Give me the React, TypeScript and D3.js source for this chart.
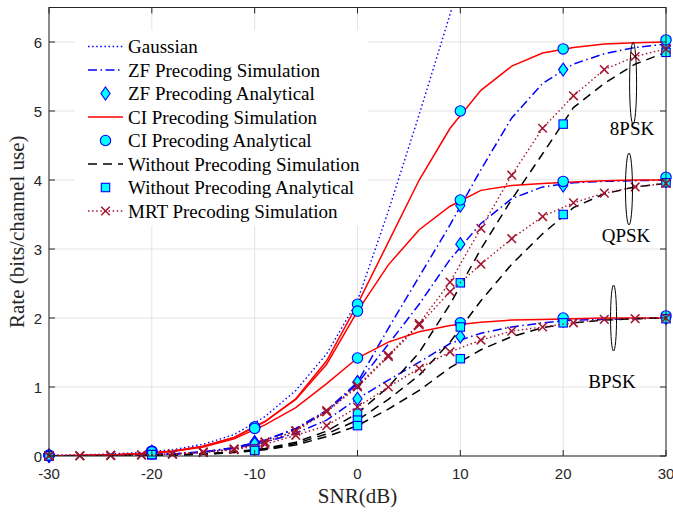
import React from 'react';
import * as d3 from 'd3';

// ---------- data ----------
const snrSim = [-30, -27, -24, -21, -18, -15, -12, -9, -6, -3, 0, 3, 6, 9, 12, 15, 18, 21, 24, 27, 30];
const snrGauss = [-30, -27, -24, -21, -18, -15, -12, -9, -6, -3, 0, 3, 6, 9, 12];
const snrAna = [-30, -20, -10, 0, 10, 20, 30];

const gaussian = [0.01, 0.015, 0.03, 0.05, 0.09, 0.17, 0.31, 0.57, 0.95, 1.48, 2.25, 3.55, 4.95, 6.4, 7.9];

// ZF precoding simulation
const zfSim8 = [0.002, 0.004, 0.008, 0.015, 0.03, 0.06, 0.12, 0.23, 0.4, 0.66, 1.07, 1.85, 2.6, 3.35, 4.15, 4.9, 5.4, 5.68, 5.83, 5.92, 5.97];
const zfSim4 = [0.002, 0.004, 0.008, 0.015, 0.03, 0.06, 0.12, 0.23, 0.39, 0.64, 1.05, 1.62, 2.2, 2.85, 3.37, 3.73, 3.9, 3.96, 3.98, 3.99, 4.0];
const zfSim2 = [0.002, 0.004, 0.008, 0.014, 0.028, 0.055, 0.11, 0.2, 0.33, 0.52, 0.83, 1.1, 1.36, 1.63, 1.78, 1.87, 1.93, 1.97, 1.98, 1.99, 2.0];
// ZF analytical
const zfAna8 = [0.003, 0.06, 0.2, 1.07, 3.63, 5.6, 5.95];
const zfAna4 = [0.003, 0.06, 0.2, 1.07, 3.07, 3.92, 3.99];
const zfAna2 = [0.003, 0.05, 0.18, 0.83, 1.73, 1.96, 2.0];

// CI precoding simulation
const ciSim8 = [0.004, 0.008, 0.016, 0.035, 0.07, 0.14, 0.27, 0.5, 0.83, 1.38, 2.2, 3.1, 4.0, 4.75, 5.3, 5.65, 5.84, 5.92, 5.97, 5.99, 6.0];
const ciSim4 = [0.004, 0.008, 0.016, 0.035, 0.07, 0.14, 0.27, 0.5, 0.82, 1.33, 2.1, 2.77, 3.28, 3.62, 3.85, 3.92, 3.95, 3.97, 3.99, 4.0, 4.0];
const ciSim2 = [0.004, 0.008, 0.016, 0.033, 0.065, 0.13, 0.25, 0.45, 0.7, 1.05, 1.42, 1.65, 1.8, 1.89, 1.94, 1.97, 1.98, 1.99, 2.0, 2.0, 2.0];
// CI analytical
const ciAna8 = [0.01, 0.07, 0.42, 2.2, 5.0, 5.9, 6.03];
const ciAna4 = [0.01, 0.07, 0.42, 2.1, 3.71, 3.98, 4.04];
const ciAna2 = [0.01, 0.06, 0.4, 1.42, 1.93, 2.0, 2.03];

// Without precoding simulation
const woSim8 = [0.001, 0.002, 0.004, 0.008, 0.015, 0.03, 0.06, 0.11, 0.2, 0.36, 0.62, 1.0, 1.5, 2.2, 3.0, 3.72, 4.38, 5.05, 5.4, 5.68, 5.85];
const woSim4 = [0.001, 0.002, 0.004, 0.008, 0.014, 0.028, 0.055, 0.1, 0.18, 0.32, 0.52, 0.82, 1.17, 1.65, 2.25, 2.78, 3.22, 3.6, 3.8, 3.9, 3.95];
const woSim2 = [0.001, 0.002, 0.004, 0.007, 0.013, 0.026, 0.05, 0.09, 0.16, 0.28, 0.44, 0.68, 0.95, 1.28, 1.54, 1.73, 1.86, 1.93, 1.97, 1.99, 2.0];
// Without precoding analytical
const woAna8 = [0.002, 0.02, 0.1, 0.62, 2.51, 4.81, 5.85];
const woAna4 = [0.002, 0.02, 0.1, 0.52, 1.87, 3.5, 3.96];
const woAna2 = [0.002, 0.02, 0.08, 0.44, 1.41, 1.93, 1.99];

// MRT precoding simulation
const mrtSim8 = [0.002, 0.004, 0.008, 0.015, 0.03, 0.055, 0.1, 0.2, 0.37, 0.66, 1.02, 1.46, 1.92, 2.52, 3.3, 4.07, 4.75, 5.22, 5.6, 5.79, 5.9];
const mrtSim4 = [0.002, 0.004, 0.008, 0.015, 0.03, 0.055, 0.1, 0.2, 0.36, 0.64, 1.0, 1.44, 1.9, 2.38, 2.78, 3.15, 3.47, 3.67, 3.81, 3.9, 3.95];
const mrtSim2 = [0.002, 0.004, 0.008, 0.014, 0.027, 0.05, 0.09, 0.17, 0.3, 0.44, 0.71, 1.0, 1.27, 1.51, 1.68, 1.81, 1.87, 1.93, 1.98, 1.99, 2.0];

const xTicks = [-30, -20, -10, 0, 10, 20, 30];
const yTicks = [0, 1, 2, 3, 4, 5, 6];

const legendLabels = [
  'Gaussian',
  'ZF Precoding Simulation',
  'ZF Precoding Analytical',
  'CI Precoding Simulation',
  'CI Precoding Analytical',
  'Without Precoding Simulation',
  'Without Precoding Analytical',
  'MRT Precoding Simulation',
];

const modLabels = ['8PSK', 'QPSK', 'BPSK'];
const modEllipseSnr = [26.8, 26.4, 24.9];
const modEllipseRate = [5.4, 3.87, 2.0];

// ---------- styles ----------
const BLUE = '#0000FF';
const RED = '#FF0000';
const BLACK = '#000000';
const MRT = '#A2142F';
const CYAN = '#00FFFF';
const SERIF = '"Liberation Serif", "Times New Roman", serif';
const SANS = '"Liberation Sans", Arial, Helvetica, sans-serif';

type Style = { stroke: string; dash?: string; width: number };
const sGauss: Style = { stroke: BLUE, dash: '1.5,2.6', width: 1.4 };
const sZF: Style = { stroke: BLUE, dash: '9,3.5,1.5,3.5', width: 1.5 };
const sCI: Style = { stroke: RED, width: 1.5 };
const sWO: Style = { stroke: BLACK, dash: '9,6', width: 1.5 };
const sMRT: Style = { stroke: MRT, dash: '1.5,2.6', width: 1.4 };

function Marker({ kind, cx, cy }: { kind: string; cx: number; cy: number }) {
  if (kind === 'circle') return <circle cx={cx} cy={cy} r={5.2} fill={CYAN} stroke={BLUE} strokeWidth={1.1} />;
  if (kind === 'diamond')
    return (
      <path
        d={`M${cx},${cy - 6.5}L${cx + 4.6},${cy}L${cx},${cy + 6.5}L${cx - 4.6},${cy}Z`}
        fill={CYAN}
        stroke={BLUE}
        strokeWidth={1.1}
      />
    );
  if (kind === 'square')
    return <rect x={cx - 4.2} y={cy - 4.2} width={8.4} height={8.4} fill={CYAN} stroke={BLUE} strokeWidth={1.1} />;
  // x
  return (
    <path d={`M${cx - 4.3},${cy - 4.3}L${cx + 4.3},${cy + 4.3}M${cx - 4.3},${cy + 4.3}L${cx + 4.3},${cy - 4.3}`} stroke={MRT} strokeWidth={1.5} fill="none" />
  );
}

export default function App() {
  const W = 673;
  const H = 513;
  const L = 49, R = 666, T = 7.5, B = 456;
  const x = d3.scaleLinear().domain([-30, 30]).range([L, R]);
  const y = d3.scaleLinear().domain([0, 6.5]).range([B, T]);
  const line = d3.line<number>();

  const path = (xs: number[], ys: number[]) =>
    d3.line<[number, number]>().x((d) => x(d[0])).y((d) => y(d[1]))(xs.map((v, i) => [v, ys[i]] as [number, number])) || '';

  const simLine = (xs: number[], ys: number[], s: Style, key: string) => (
    <path key={key} d={path(xs, ys)} fill="none" stroke={s.stroke} strokeWidth={s.width} strokeDasharray={s.dash} clipPath="url(#plotclip)" />
  );
  const markers = (xs: number[], ys: number[], kind: string, key: string) =>
    xs.map((v, i) => <Marker key={key + i} kind={kind} cx={x(v)} cy={y(ys[i])} />);

  const gridColor = '#e3e3e3';
  const axisColor = '#262626';
  const tickLen = 6;

  // legend layout
  const legX = 75, legY = 30, legW = 293, legH = 196;
  const rowY = (i: number) => 46.5 + i * 23.5;
  const legItems: { style?: Style; marker?: string }[] = [
    { style: sGauss },
    { style: sZF },
    { marker: 'diamond' },
    { style: sCI },
    { marker: 'circle' },
    { style: sWO },
    { marker: 'square' },
    { style: sMRT, marker: 'x' },
  ];

  return (
    <svg width={W} height={H} style={{ position: 'absolute', left: 0, top: 0, background: '#fff' }}>
      <defs>
        <clipPath id="plotclip">
          <rect x={L} y={T} width={R - L} height={B - T} />
        </clipPath>
      </defs>
      <rect x={0} y={0} width={W} height={H} fill="#fff" />
      {/* grid */}
      {xTicks.map((t) => (
        <line key={'gx' + t} x1={x(t)} x2={x(t)} y1={T} y2={B} stroke={gridColor} strokeWidth={1} />
      ))}
      {yTicks.map((t) => (
        <line key={'gy' + t} x1={L} x2={R} y1={y(t)} y2={y(t)} stroke={gridColor} strokeWidth={1} />
      ))}

      {/* legend background (covers grid) */}
      <rect x={legX} y={legY} width={legW} height={legH} fill="#fff" />

      {/* series */}
      {simLine(snrGauss, gaussian, sGauss, 'g')}
      {simLine(snrSim, zfSim8, sZF, 'zf8')}
      {simLine(snrSim, zfSim4, sZF, 'zf4')}
      {simLine(snrSim, zfSim2, sZF, 'zf2')}
      {markers(snrAna, zfAna8, 'diamond', 'zfa8')}
      {markers(snrAna, zfAna4, 'diamond', 'zfa4')}
      {markers(snrAna, zfAna2, 'diamond', 'zfa2')}
      {simLine(snrSim, ciSim8, sCI, 'ci8')}
      {simLine(snrSim, ciSim4, sCI, 'ci4')}
      {simLine(snrSim, ciSim2, sCI, 'ci2')}
      {markers(snrAna, ciAna8, 'circle', 'cia8')}
      {markers(snrAna, ciAna4, 'circle', 'cia4')}
      {markers(snrAna, ciAna2, 'circle', 'cia2')}
      {simLine(snrSim, woSim8, sWO, 'wo8')}
      {simLine(snrSim, woSim4, sWO, 'wo4')}
      {simLine(snrSim, woSim2, sWO, 'wo2')}
      {markers(snrAna, woAna8, 'square', 'woa8')}
      {markers(snrAna, woAna4, 'square', 'woa4')}
      {markers(snrAna, woAna2, 'square', 'woa2')}
      {simLine(snrSim, mrtSim8, sMRT, 'm8')}
      {simLine(snrSim, mrtSim4, sMRT, 'm4')}
      {simLine(snrSim, mrtSim2, sMRT, 'm2')}
      {markers(snrSim, mrtSim8, 'x', 'mx8')}
      {markers(snrSim, mrtSim4, 'x', 'mx4')}
      {markers(snrSim, mrtSim2, 'x', 'mx2')}

      {/* axes box */}
      <rect x={L} y={T} width={R - L} height={B - T} fill="none" stroke={axisColor} strokeWidth={1} />
      {xTicks.map((t) => (
        <g key={'xt' + t}>
          <line x1={x(t)} x2={x(t)} y1={B} y2={B - tickLen} stroke={axisColor} />
          <line x1={x(t)} x2={x(t)} y1={T} y2={T + tickLen} stroke={axisColor} />
          <text x={x(t)} y={479} textAnchor="middle" fontFamily={SANS} fontSize={15} fill="#262626">
            {t}
          </text>
        </g>
      ))}
      {yTicks.map((t) => (
        <g key={'yt' + t}>
          <line x1={L} x2={L + tickLen} y1={y(t)} y2={y(t)} stroke={axisColor} />
          <line x1={R} x2={R - tickLen} y1={y(t)} y2={y(t)} stroke={axisColor} />
          <text x={42} y={y(t) + 5.5} textAnchor="end" fontFamily={SANS} fontSize={15} fill="#262626">
            {t}
          </text>
        </g>
      ))}

      {/* axis labels */}
      <text x={(L + R) / 2} y={503} textAnchor="middle" fontFamily={SERIF} fontSize={21} fill="#262626">
        SNR(dB)
      </text>
      <text
        transform={`translate(24,${(T + B) / 2}) rotate(-90)`}
        textAnchor="middle"
        fontFamily={SERIF}
        fontSize={21}
        fill="#262626"
      >
        Rate (bits/channel use)
      </text>

      {/* modulation ellipses & labels */}
      <ellipse cx={x(modEllipseSnr[0])} cy={y(modEllipseRate[0])} rx={3.5} ry={41} fill="none" stroke={BLACK} strokeWidth={1} />
      <ellipse cx={x(modEllipseSnr[1])} cy={y(modEllipseRate[1])} rx={3.5} ry={36} fill="none" stroke={BLACK} strokeWidth={1} />
      <ellipse cx={x(modEllipseSnr[2])} cy={y(modEllipseRate[2])} rx={3} ry={33} fill="none" stroke={BLACK} strokeWidth={1} />
      <text x={632} y={135} textAnchor="middle" fontFamily={SERIF} fontSize={19} fill="#000">
        {modLabels[0]}
      </text>
      <text x={626} y={242} textAnchor="middle" fontFamily={SERIF} fontSize={19} fill="#000">
        {modLabels[1]}
      </text>
      <text x={612} y={388} textAnchor="middle" fontFamily={SERIF} fontSize={19} fill="#000">
        {modLabels[2]}
      </text>

      {/* legend */}
      {legendLabels.map((lab, i) => {
        const it = legItems[i];
        const cy = rowY(i);
        return (
          <g key={'leg' + i}>
            {it.style && (
              <path
                d={line([[88, cy], [123, cy]] as any) || ''}
                stroke={it.style.stroke}
                strokeWidth={it.style.width}
                strokeDasharray={it.style.dash}
                fill="none"
              />
            )}
            {it.marker && <Marker kind={it.marker} cx={105.5} cy={cy} />}
            <text x={128} y={cy + 6.5} fontFamily={SERIF} fontSize={19} fill="#000">
              {lab}
            </text>
          </g>
        );
      })}
    </svg>
  );
}
